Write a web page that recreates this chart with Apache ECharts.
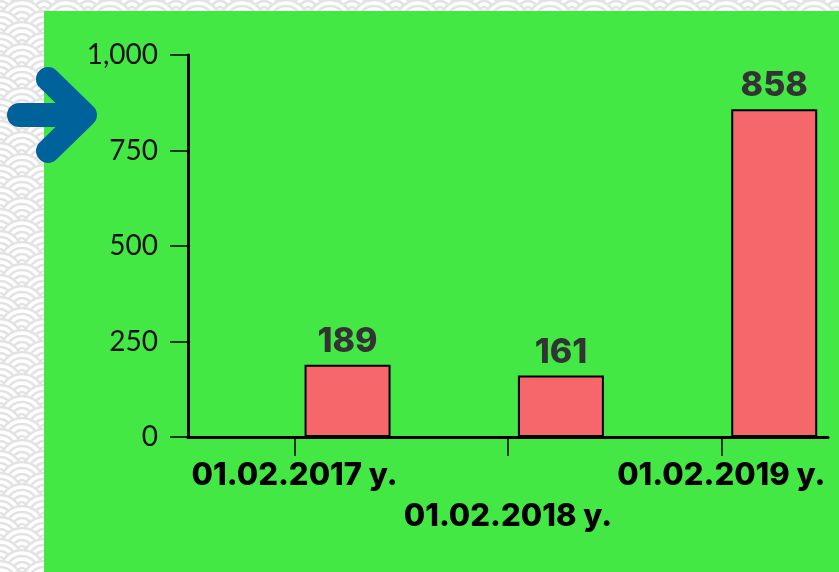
<!DOCTYPE html>
<html>
<head>
<meta charset="utf-8">
<script src="https://cdn.jsdelivr.net/npm/echarts@6/dist/echarts.min.js"></script>
<style>
  html, body { margin: 0; padding: 0; background: #ffffff; }
  #chart { width: 839px; height: 572px; }
</style>
</head>
<body>
<div id="chart"></div>
<script>
// chart data
const categories = ['01.02.2017 y.', '01.02.2018 y.', '01.02.2019 y.'];
const values = [189, 161, 858];
const yMin = 0;
const yMax = 1000;
const yInterval = 250;

// wave pattern in the white margin (decoration only)
function wavePattern() {
  const items = [];
  for (let row = -2; row < 56; row++) {
    const y = row * 11;
    const shift = (row % 2 === 0) ? 0 : 22;
    for (let x = -22 + shift; x < 880; x += 44) {
      if (x > 80 && y > 40) continue;
      [22, 16, 10, 4].forEach((r, i) => {
        items.push({
          type: 'circle',
          silent: true,
          z: -10,
          shape: {cx: x, cy: y, r: r},
          style: {fill: i === 0 ? '#ffffff' : null, stroke: '#e3e3e3', lineWidth: 2.5}
        });
      });
    }
  }
  return items;
}

const chart = echarts.init(document.getElementById('chart'));
chart.setOption({
  animation: false,
  textStyle: {fontFamily: 'Inter'},
  graphic: wavePattern().concat([
    {
      type: 'rect',
      silent: true,
      z: -5,
      shape: {x: 44, y: 11, width: 800, height: 570},
      style: {fill: '#44e845'}
    },
    {
      type: 'polyline',
      silent: true,
      z: 1,
      shape: {points: [[19, 115], [84, 115]]},
      style: {stroke: '#00629a', lineWidth: 24, lineCap: 'round', fill: null}
    },
    {
      type: 'polyline',
      silent: true,
      z: 1,
      shape: {points: [[48, 79], [85, 115], [48, 151]]},
      style: {stroke: '#00629a', lineWidth: 24, lineCap: 'round', lineJoin: 'round', fill: null}
    }
  ]),
  grid: {left: 188, right: 11, top: 55, bottom: 135, containLabel: false},
  xAxis: {
    type: 'category',
    data: categories,
    axisLine: {lineStyle: {color: '#000000', width: 3}},
    axisTick: {show: true, alignWithLabel: true, length: 19, lineStyle: {color: '#000000', width: 1.5}},
    axisLabel: {
      interval: 0,
      margin: 18,
      color: '#000000',
      fontFamily: 'Inter',
      fontWeight: 800,
      fontSize: 31,
      lineHeight: 41,
      formatter: (v, i) => (i % 2 === 1 ? '\n' : '') + v
    },
    splitLine: {show: false}
  },
  yAxis: {
    type: 'value',
    min: yMin,
    max: yMax,
    interval: yInterval,
    axisLine: {show: true, lineStyle: {color: '#000000', width: 3}},
    axisTick: {show: true, length: 18, lineStyle: {color: '#000000', width: 1.5}},
    axisLabel: {
      margin: 30,
      color: '#111111',
      fontFamily: 'Lato',
      fontSize: 28,
      formatter: v => v.toLocaleString('en-US')
    },
    splitLine: {show: false}
  },
  series: [
    {
      // empty slot: the visible bars sit right of the category centre
      type: 'bar',
      data: categories.map(() => null),
      barWidth: 86,
      barGap: '23%'
    },
    {
      type: 'bar',
      data: values,
      barWidth: 86,
      barGap: '23%',
      itemStyle: {color: '#f6676c', borderColor: '#000000', borderWidth: 2},
      label: {
        show: true,
        position: 'top',
        distance: 6,
        color: '#333333',
        fontFamily: 'Inter',
        fontWeight: 800,
        fontSize: 34
      }
    }
  ]
});
</script>
</body>
</html>
